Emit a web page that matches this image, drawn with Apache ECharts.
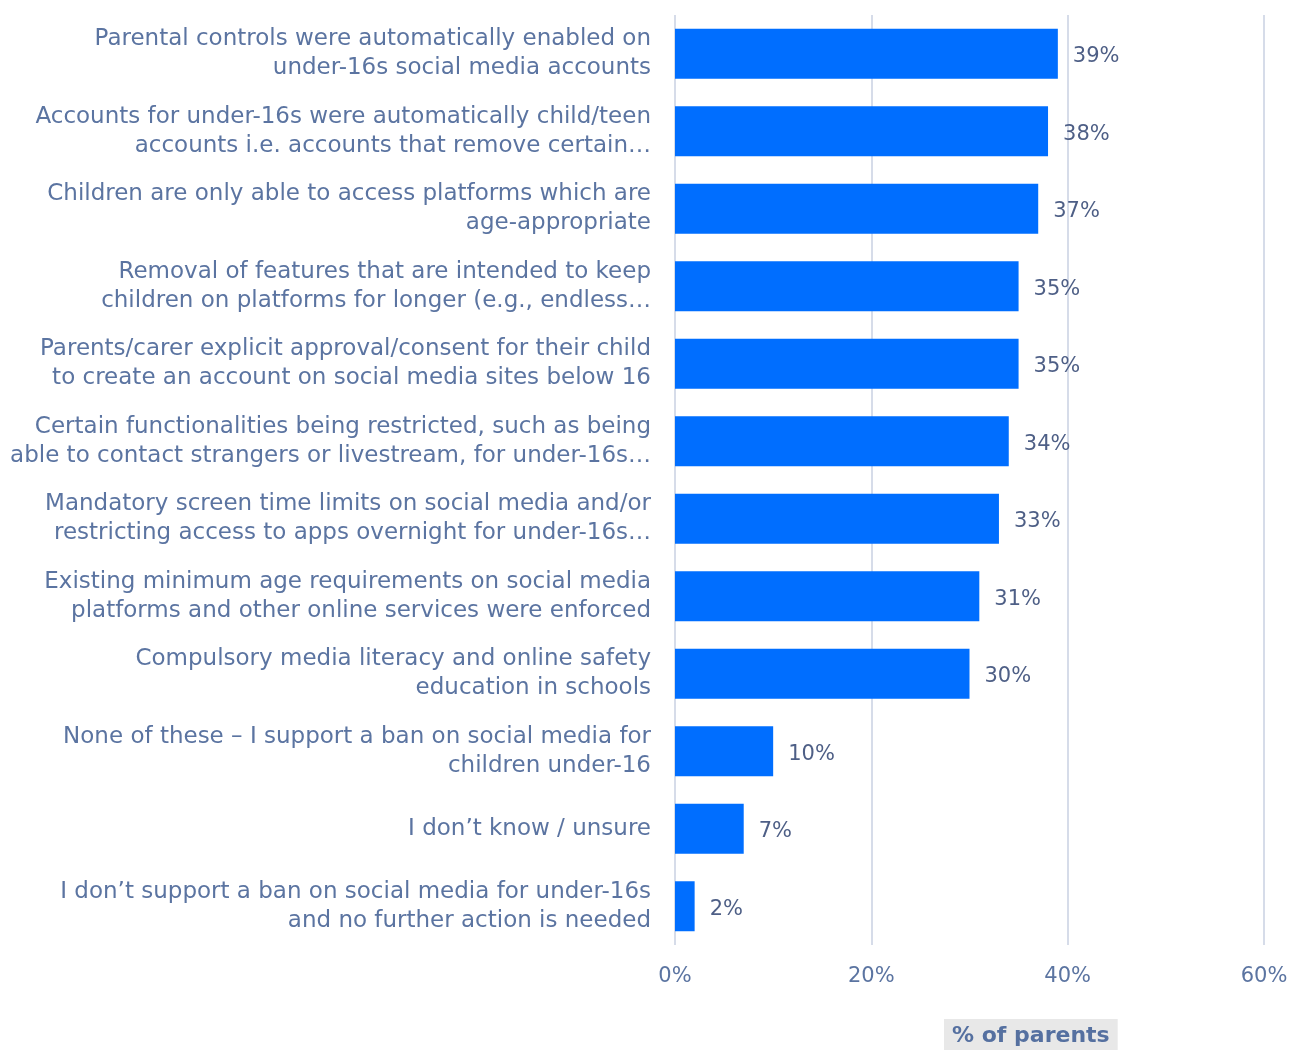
<!DOCTYPE html>
<html>
<head>
<meta charset="utf-8">
<style>
  html, body { margin: 0; padding: 0; background: #ffffff; }
  #chart { width: 1293px; height: 1050px; }
</style>
<script src="https://cdn.jsdelivr.net/npm/echarts@6/dist/echarts.min.js"></script>
</head>
<body>
<div id="chart"></div>
<script>
// Measures parents would support, ordered top to bottom
const categories = [
  'Parental controls were automatically enabled on\nunder-16s social media accounts',
  'Accounts for under-16s were automatically child/teen\naccounts i.e. accounts that remove certain…',
  'Children are only able to access platforms which are\nage-appropriate',
  'Removal of features that are intended to keep\nchildren on platforms for longer (e.g., endless…',
  'Parents/carer explicit approval/consent for their child\nto create an account on social media sites below 16',
  'Certain functionalities being restricted, such as being\nable to contact strangers or livestream, for under-16s…',
  'Mandatory screen time limits on social media and/or\nrestricting access to apps overnight for under-16s…',
  'Existing minimum age requirements on social media\nplatforms and other online services were enforced',
  'Compulsory media literacy and online safety\neducation in schools',
  'None of these – I support a ban on social media for\nchildren under-16',
  'I don’t know / unsure',
  'I don’t support a ban on social media for under-16s\nand no further action is needed'
];
const shareOfParents = [39, 38, 37, 35, 35, 34, 33, 31, 30, 10, 7, 2];
const xTicks = [0, 20, 40, 60];
const axisTitle = '% of parents';

const FONT = "'DejaVu Sans', sans-serif";
const chart = echarts.init(document.getElementById('chart'));
chart.setOption({
  animation: false,
  backgroundColor: '#ffffff',
  title: {
    text: axisTitle,
    left: 944,
    top: 1019,
    backgroundColor: '#e8e8e8',
    padding: [6, 8, 8, 8],
    textStyle: { fontFamily: FONT, fontSize: 22, fontWeight: 'bold', color: '#5570a0' }
  },
  grid: {
    left: 675, right: 29, top: 15, bottom: 105,
    containLabel: false,
    outerBoundsMode: 'none'
  },
  xAxis: {
    type: 'value',
    min: xTicks[0],
    max: xTicks[xTicks.length - 1],
    interval: 20,
    axisLine: { show: false },
    axisTick: { show: false },
    splitLine: { show: true, lineStyle: { color: '#d6dce9', width: 2 } },
    axisLabel: {
      margin: 21,
      fontFamily: FONT,
      fontSize: 21,
      color: '#5b74a1',
      formatter: v => v + '%'
    }
  },
  yAxis: {
    type: 'category',
    inverse: true,
    data: categories,
    axisLine: { show: false },
    axisTick: { show: false },
    axisLabel: {
      margin: 24,
      fontFamily: FONT,
      fontSize: 23,
      lineHeight: 29,
      padding: [4, 0, 0, 0],
      color: '#5b74a1',
      align: 'right'
    }
  },
  series: [{
    type: 'bar',
    data: shareOfParents,
    barCategoryGap: '35.5%',
    itemStyle: { color: '#006eff' },
    label: {
      show: true,
      position: 'right',
      distance: 15,
      offset: [0, 3],
      fontFamily: FONT,
      fontSize: 21,
      color: '#4e5f86',
      formatter: p => p.value + '%'
    }
  }]
});
</script>
</body>
</html>
